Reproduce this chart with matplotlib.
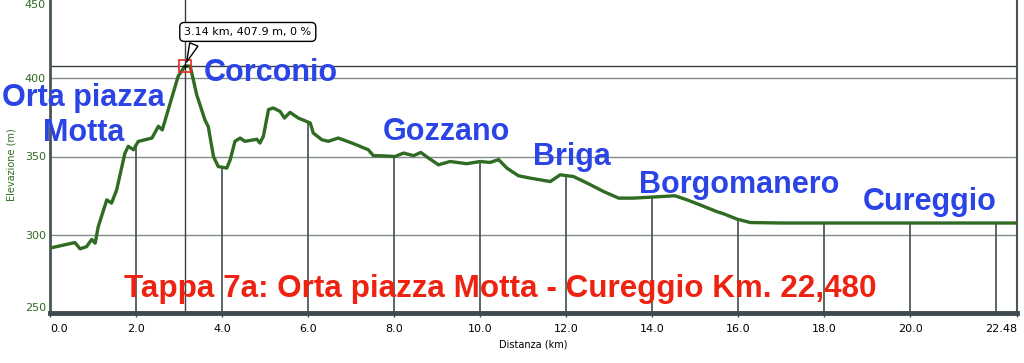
import numpy as np
import matplotlib.pyplot as plt

# profile (km, m)
dist = [0.00, 0.58, 0.70, 0.85, 0.97, 1.05, 1.12, 1.32, 1.43, 1.55, 1.74, 1.82, 1.94, 2.05,
        2.37, 2.52, 2.61, 2.75, 2.98, 3.14, 3.26, 3.41, 3.60, 3.68, 3.80, 3.91, 4.11, 4.19,
        4.30, 4.42, 4.53, 4.81, 4.88, 4.96, 5.08, 5.19, 5.35, 5.45, 5.58, 5.77, 6.05, 6.12,
        6.32, 6.47, 6.70, 7.02, 7.40, 7.52, 7.67, 8.02, 8.22, 8.45, 8.62, 8.80, 9.03, 9.30,
        9.69, 10.00, 10.23, 10.43, 10.62, 10.89, 11.16, 11.63, 11.86, 12.17, 12.56, 12.87,
        13.22, 13.56, 13.95, 14.53, 14.81, 15.12, 15.50, 15.66, 15.97, 16.28, 17.0, 19.0,
        21.0, 22.48]
elev = [291.5, 295.0, 291.0, 292.4, 297.0, 294.6, 305.0, 322.3, 320.2, 328.7, 352.0, 356.5,
        354.3, 359.6, 361.8, 369.3, 367.0, 380.0, 401.3, 407.9, 407.7, 389.5, 373.5, 369.0,
        350.0, 343.6, 342.6, 348.0, 359.7, 361.8, 359.7, 361.0, 358.6, 362.9, 380.0, 381.0,
        378.8, 374.6, 378.2, 374.6, 371.4, 365.0, 360.7, 359.7, 361.8, 358.6, 354.3, 350.5,
        350.5, 350.0, 352.2, 350.5, 352.6, 349.0, 344.7, 346.8, 345.4, 346.8, 346.2, 348.0,
        342.6, 337.7, 336.2, 334.0, 338.3, 337.2, 332.0, 327.6, 323.4, 323.4, 324.0, 324.9,
        322.3, 319.0, 314.8, 313.4, 310.0, 307.8, 307.5, 307.5, 307.5, 307.5]

places = ["Orta piazza", "Motta", "Corconio", "Gozzano", "Briga", "Borgomanero", "Cureggio"]
place_x = [0.78, 0.79, 5.13, 9.22, 12.14, 16.02, 20.44]
place_y = [382.5, 359.6, 398.0, 360.7, 344.7, 326.6, 315.9]

title = "Tappa 7a: Orta piazza Motta - Cureggio Km. 22,480"
peak_km, peak_m = 3.14, 407.9

xticks = [0, 2, 4, 6, 8, 10, 12, 14, 16, 18, 20, 22.48]
xlabels = ["0.0", "2.0", "4.0", "6.0", "8.0", "10.0", "12.0", "14.0", "16.0", "18.0", "20.0", "22.48"]
yticks = [250, 300, 350, 400, 450]
drops = [2, 4, 6, 8, 10, 12, 14, 16, 18, 20, 22]

fig = plt.figure(figsize=(10.24, 3.63), dpi=100)
ax = fig.add_axes([50 / 1024, 50 / 363, 967 / 1024, 313 / 363])
ax.set_xlim(0, 22.48)
ax.set_ylim(250, 450)

green = '#2f6b22'
for y in [300, 350, 400]:
    ax.axhline(y, color='#858b8d', lw=1, zorder=1)
ax.vlines(drops, 250, np.interp(drops, dist, elev), color='#4f5a5e', lw=1.3, zorder=1)

# crosshair at the highest point
ax.axhline(peak_m, color='#3a3f42', lw=1, zorder=2)
ax.axvline(peak_km, color='#3a3f42', lw=1, zorder=2)

ax.plot(dist, elev, color=green, lw=2.4, zorder=3, solid_joinstyle='round')
ax.plot(peak_km, peak_m, 's', ms=8, mfc='none', mec='#e8281e', mew=1.2, zorder=5)
ax.plot(peak_km, peak_m, '+', ms=5, color='black', mew=0.8, zorder=5)
ax.annotate("3.14 km, 407.9 m, 0 %", xy=(peak_km, peak_m), xytext=(3.12, 429.6),
            ha='left', va='center', fontsize=8, zorder=6,
            bbox=dict(boxstyle='round,pad=0.4,rounding_size=0.4', fc='white', ec='black', lw=1),
            arrowprops=dict(arrowstyle='wedge,tail_width=0.8', fc='white', ec='black', lw=1,
                            relpos=(0.1, 0.0), shrinkB=3))

blue = '#2a44e6'
for name, x, y in zip(places, place_x, place_y):
    ax.text(x, y, name, ha='center', va='baseline', color=blue, fontsize=22,
            fontweight='bold', family='Liberation Sans', zorder=7)
ax.text(10.47, 260.3, title, ha='center', va='baseline', color='#ee2211', fontsize=22.6,
        fontweight='bold', family='Liberation Sans', zorder=7)

ax.spines['top'].set_visible(False)
ax.spines['left'].set_color('#4a5558')
ax.spines['left'].set_linewidth(2)
ax.spines['right'].set_color('#4a5558')
ax.spines['right'].set_linewidth(1.5)
ax.spines['bottom'].set_color('#3d4a4f')
ax.spines['bottom'].set_linewidth(3.5)

ax.set_xticks(xticks)
ax.set_xticklabels(xlabels, fontsize=8)
ax.tick_params(axis='x', length=3, width=1, color='#3d4a4f', pad=5)
xlabs = ax.get_xticklabels()
xlabs[0].set_ha('left')
xlabs[-1].set_ha('right')
ax.set_yticks(yticks)
ax.set_yticklabels([str(v) for v in yticks], fontsize=8, color=green)
ax.tick_params(axis='y', length=0, pad=3)
ylabs = ax.get_yticklabels()
ylabs[0].set_va('bottom')
ylabs[-1].set_va('top')

ax.set_xlabel("Distanza (km)", fontsize=7, labelpad=4)
fig.text(12 / 1024, 1 - 165 / 363, "Elevazione (m)", rotation=90, color=green,
         fontsize=7, ha='center', va='center')

fig.savefig('out.png', dpi=100)
